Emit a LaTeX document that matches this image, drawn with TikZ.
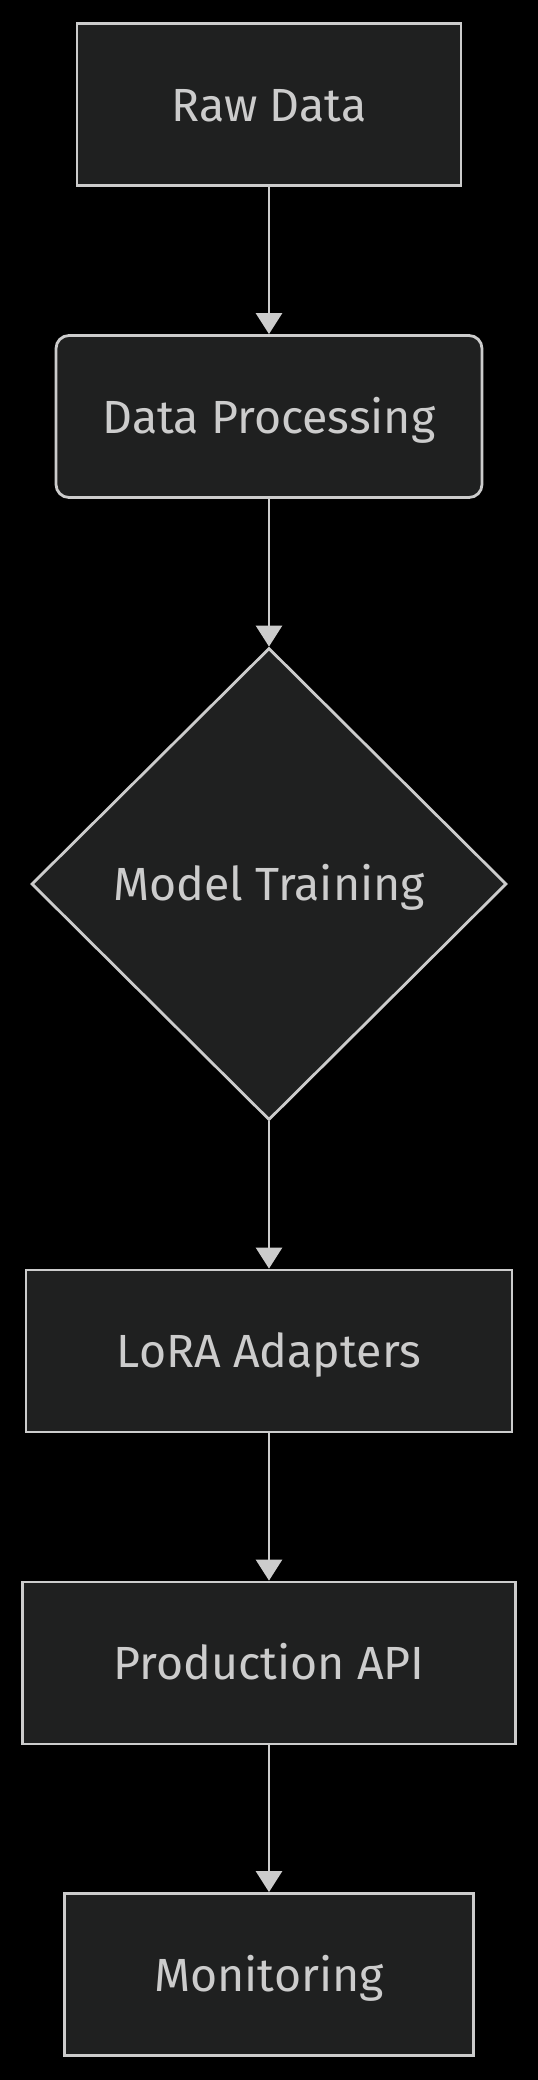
\documentclass[tikz,border=0pt]{standalone}
\usepackage{fontspec}
\setmainfont{Fira Sans}
\usetikzlibrary{shapes.geometric,arrows.meta}
\definecolor{nodefill}{HTML}{1F2020}
\definecolor{linecol}{HTML}{CCCCCC}
\definecolor{txtcol}{HTML}{CCCCCC}
\tikzset{
  base/.style={draw=linecol, line width=2.8pt, fill=nodefill, text=txtcol,
    inner sep=0pt, font=\fontsize{46.5}{56}\selectfont, text height=33pt, text depth=0pt},
  boxnode/.style={base, rectangle, minimum height=162pt},
  roundnode/.style={base, rectangle, rounded corners=13pt, minimum height=162pt},
  decnode/.style={base, diamond, aspect=1, minimum width=475pt, minimum height=472pt},
  flow/.style={draw=linecol, line width=2.8pt, -{Triangle[width=26pt,length=21pt]}}
}
\begin{document}
\begin{tikzpicture}[x=1pt,y=-1pt]
\fill[black] (0,0) rectangle (538,2080);
\useasboundingbox (0,0) rectangle (538,2080);
\node[boxnode, minimum width=384pt] (raw) at (269,104.5) {Raw Data};
\node[roundnode, minimum width=426pt] (proc) at (269,416.5) {Data Processing};
\node[decnode] (train) at (269,884) {Model Training};
\node[boxnode, minimum width=486pt] (lora) at (269,1351) {LoRA Adapters};
\node[boxnode, minimum width=493pt] (api) at (269,1663) {Production API};
\node[boxnode, minimum width=409pt] (mon) at (269,1974.5) {Monitoring};
\draw[flow] (raw.south) -- (proc.north);
\draw[flow] (proc.south) -- (train.north);
\draw[flow] (train.south) -- (lora.north);
\draw[flow] (lora.south) -- (api.north);
\draw[flow] (api.south) -- (mon.north);
\end{tikzpicture}
\end{document}
